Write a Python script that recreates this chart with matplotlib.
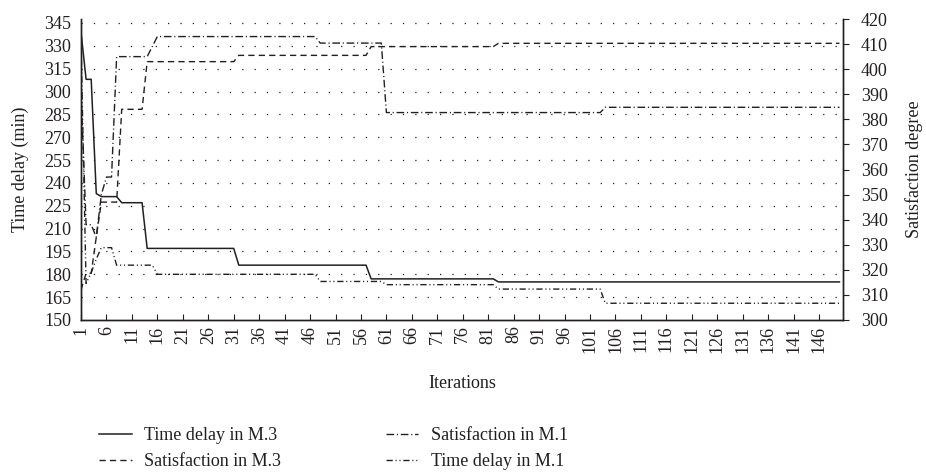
import numpy as np
import matplotlib.pyplot as plt

plt.rcParams['font.family'] = ['Liberation Serif', 'DejaVu Serif']
plt.rcParams['lines.scale_dashes'] = False

# Time delay in M.3 (min), left axis
td_m3_it = [1, 2, 3, 4, 5, 8, 9, 13, 14, 31, 32, 57, 58, 82, 83, 150]
td_m3 = [339, 308, 308, 233, 231, 231, 227, 227, 197, 197, 186, 186, 177, 177, 175, 175]

# Time delay in M.1 (min), left axis
td_m1_it = [1, 2, 3, 4, 5, 7, 8, 15, 16, 47, 48, 60, 61, 82, 83, 103, 104, 150]
td_m1 = [332, 174, 181, 190, 197.5, 197.5, 186, 186, 180, 180, 175.3, 175.3, 173.2, 173.2, 170.3, 170.3, 161, 161]

# Satisfaction in M.3, right axis
sat_m3_it = [1, 2, 3, 4, 5, 8, 9, 13, 14, 31, 32, 57, 58, 82, 83, 150]
sat_m3 = [312, 318.6, 318.6, 333, 347, 347, 384, 384, 403, 403, 405.5, 405.5, 409, 409, 410.3, 410.3]

# Satisfaction in M.1, right axis
sat_m1_it = [1, 2, 3, 4, 5, 6, 7, 8, 14, 15, 16, 47, 48, 60, 61, 103, 104, 150]
sat_m1 = [392, 338, 338, 333, 350, 357, 357, 405, 405, 409, 413, 413, 410.4, 410.4, 382.7, 382.7, 384.8, 384.8]

left_ticks = np.arange(150, 346, 15)
right_ticks = np.arange(300, 421, 10)
x_ticks = np.arange(1, 150, 5)

col = '#231f20'
fs = 13

fig = plt.figure(figsize=(9.26, 4.74), dpi=100)
ax = fig.add_axes([81/926, 1-320/474, (843-81)/926, (320-19)/474])
ax2 = ax.twinx()

l1, = ax.plot(td_m3_it, td_m3, color=col, lw=1.1, ls='-')
l4, = ax.plot(td_m1_it, td_m1, color=col, lw=1.0, ls=(0, (4.5, 2, 0.8, 2, 0.8, 2)))
l2, = ax2.plot(sat_m3_it, sat_m3, color=col, lw=1.0, ls=(0, (4.5, 3)))
l3, = ax2.plot(sat_m1_it, sat_m1, color=col, lw=1.0, ls=(0, (5.5, 2, 0.8, 2)))

ax.set_xlim(1, 150.7)
ax.set_ylim(150, 347.6)
ax2.set_ylim(300, 420)

ax.set_yticks(left_ticks)
ax2.set_yticks(right_ticks)
ax.set_xticks(x_ticks)
ax.set_xticklabels([str(v) for v in x_ticks], rotation=90, fontsize=fs)
ax.tick_params(axis='y', labelsize=fs, length=0, pad=7, colors=col)
ax.tick_params(axis='x', direction='in', length=4, width=0.8, pad=4, colors=col)
ax2.tick_params(axis='y', labelsize=fs, direction='out', length=4, width=0.8, pad=9, colors=col)

for g in left_ticks[1:]:
    ax.axhline(g, color=col, lw=0.9, ls=(0, (0.9, 8)), zorder=0)

for a in (ax, ax2):
    a.spines['top'].set_visible(False)
    for s in ('left', 'right', 'bottom'):
        a.spines[s].set_color(col)
        a.spines[s].set_linewidth(1.0)

ax.set_xlabel('Iterations', fontsize=fs, color=col, labelpad=16)
ax.set_ylabel('Time delay (min)', fontsize=fs, color=col, labelpad=11)
ax2.set_ylabel('Satisfaction degree', fontsize=fs, color=col, labelpad=12)

fig.legend([l1, l2, l3, l4],
           ['Time delay in M.3', 'Satisfaction in M.3', 'Satisfaction in M.1', 'Time delay in M.1'],
           loc='upper left', bbox_to_anchor=(90/926, 1-418/474), ncol=2, frameon=False,
           fontsize=fs, borderpad=0, handlelength=1.8, handletextpad=0.7,
           columnspacing=5.8, labelspacing=0.5, labelcolor=col)

fig.savefig('out.png', dpi=100)
